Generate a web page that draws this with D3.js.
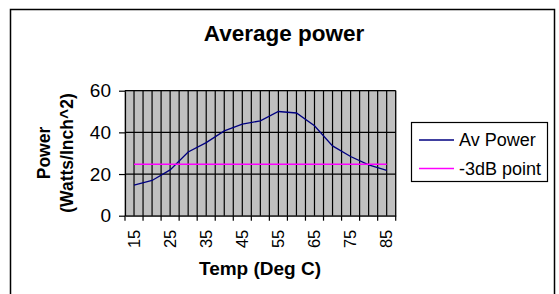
<!DOCTYPE html>
<html lang="en">
<head>
<meta charset="UTF-8">
<title>Average power</title>
<script src="https://d3js.org/d3.v7.min.js"></script>
<style>
  body { margin: 0; background: #fff; }
  svg { display: block; font-family: "Liberation Sans", Arial, sans-serif; }
</style>
</head>
<body>
<div id="chart"></div>
<script>
// data
var temps = [15, 20, 25, 30, 35, 40, 45, 50, 55, 60, 65, 70, 75, 80, 85];
var avPower = [14.7, 16.9, 22, 30.6, 35.1, 40.7, 44, 45.5, 50, 49.3, 43.2, 33.5, 28.4, 24.4, 21.8];
var halfPower = [24.7, 24.7, 24.7, 24.7, 24.7, 24.7, 24.7, 24.7, 24.7, 24.7, 24.7, 24.7, 24.7, 24.7, 24.7];
var yTicks = [0, 20, 40, 60];
var seriesNames = ["Av Power", "-3dB point"];
var seriesColors = ["#000080", "#ff00ff"];

var W = 559, H = 294;
var plot = {left: 125, right: 395.7, top: 90.7, bottom: 215.7};

var svg = d3.select("#chart").append("svg")
  .attr("width", W).attr("height", H);

// outer chart border
svg.append("rect")
  .attr("x", 10.5).attr("y", 9.5)
  .attr("width", 544).attr("height", 300)
  .attr("fill", "#fff").attr("stroke", "#000").attr("stroke-width", 1.5);

var x = d3.scaleBand().domain(temps).range([plot.left, plot.right]);
var y = d3.scaleLinear().domain([0, 60]).range([plot.bottom, plot.top]);
var bw = x.bandwidth();

// plot area
svg.append("rect")
  .attr("x", plot.left).attr("y", plot.top)
  .attr("width", plot.right - plot.left).attr("height", plot.bottom - plot.top)
  .attr("fill", "#c0c0c0").attr("stroke", "#808080").attr("stroke-width", 1);

// vertical gridlines, every half category
var vLines = [];
temps.forEach(function(t) { vLines.push(x(t) + bw / 2); vLines.push(x(t) + bw); });
svg.append("g").selectAll("line").data(vLines).enter().append("line")
  .attr("x1", function(d) { return d; }).attr("x2", function(d) { return d; })
  .attr("y1", plot.top).attr("y2", plot.bottom)
  .attr("stroke", "#000").attr("stroke-width", 1.2);

// horizontal gridlines
svg.append("g").selectAll("line").data(yTicks.slice(1)).enter().append("line")
  .attr("x1", plot.left).attr("x2", plot.right)
  .attr("y1", function(d) { return y(d); }).attr("y2", function(d) { return y(d); })
  .attr("stroke", "#000").attr("stroke-width", 1.2);

// y axis
var yAxis = svg.append("g")
  .attr("transform", "translate(" + plot.left + ",0)")
  .call(d3.axisLeft(y).tickValues(yTicks).tickSize(6).tickSizeOuter(0).tickPadding(8));
yAxis.selectAll("text").style("font-size", "19px").attr("fill", "#000");
yAxis.selectAll("line, path").attr("stroke", "#000").attr("stroke-width", 1.2);

// x axis: labels at category centers, ticks at category boundaries
var xAxis = svg.append("g")
  .attr("transform", "translate(0," + plot.bottom + ")")
  .call(d3.axisBottom(x).tickSize(0).tickSizeOuter(0)
    .tickFormat(function(d, i) { return i % 2 === 0 ? d : ""; }));
xAxis.select("path").attr("stroke", "#000").attr("stroke-width", 1.2);
xAxis.selectAll("text")
  .style("font-size", "16.5px").attr("fill", "#000")
  .attr("transform", "rotate(-90)")
  .attr("text-anchor", "end")
  .attr("x", -14).attr("y", 0).attr("dy", "0.35em");
var bounds = temps.map(function(t) { return x(t); }).concat([plot.right]);
svg.append("g").selectAll("line").data(bounds).enter().append("line")
  .attr("x1", function(d) { return d; }).attr("x2", function(d) { return d; })
  .attr("y1", plot.bottom).attr("y2", plot.bottom + 5)
  .attr("stroke", "#000").attr("stroke-width", 1.2);

// series lines
var line = d3.line()
  .x(function(d, i) { return x(temps[i]) + bw / 2; })
  .y(function(d) { return y(d); });
[avPower, halfPower].forEach(function(s, k) {
  svg.append("path").datum(s)
    .attr("d", line)
    .attr("fill", "none")
    .attr("stroke", seriesColors[k])
    .attr("stroke-width", 1.3);
});

// title
svg.append("text")
  .attr("x", 284).attr("y", 41)
  .attr("text-anchor", "middle")
  .style("font-size", "22.5px").style("font-weight", "bold")
  .text("Average power");

// axis titles
var yt = svg.append("text")
  .attr("transform", "translate(0,153) rotate(-90)")
  .attr("text-anchor", "middle")
  .style("font-size", "17.5px").style("font-weight", "bold");
yt.append("tspan").attr("x", 0).attr("y", 44).attr("dy", "0.35em").text("Power");
yt.append("tspan").attr("x", 0).attr("y", 67).attr("dy", "0.35em").text("(Watts/Inch^2)");

svg.append("text")
  .attr("x", 260).attr("y", 275)
  .attr("text-anchor", "middle")
  .style("font-size", "19px").style("font-weight", "bold")
  .text("Temp (Deg C)");

// legend
var lg = svg.append("g");
lg.append("rect")
  .attr("x", 411.5).attr("y", 122.5).attr("width", 136).attr("height", 59)
  .attr("fill", "#fff").attr("stroke", "#000").attr("stroke-width", 1.2);
seriesNames.forEach(function(n, i) {
  var ly = 140 + i * 28.5;
  lg.append("line")
    .attr("x1", 419).attr("x2", 454).attr("y1", ly).attr("y2", ly)
    .attr("stroke", seriesColors[i]).attr("stroke-width", 1.3);
  lg.append("text")
    .attr("x", 459).attr("y", ly).attr("dy", "0.35em")
    .style("font-size", "18px")
    .text(n);
});
</script>
</body>
</html>
